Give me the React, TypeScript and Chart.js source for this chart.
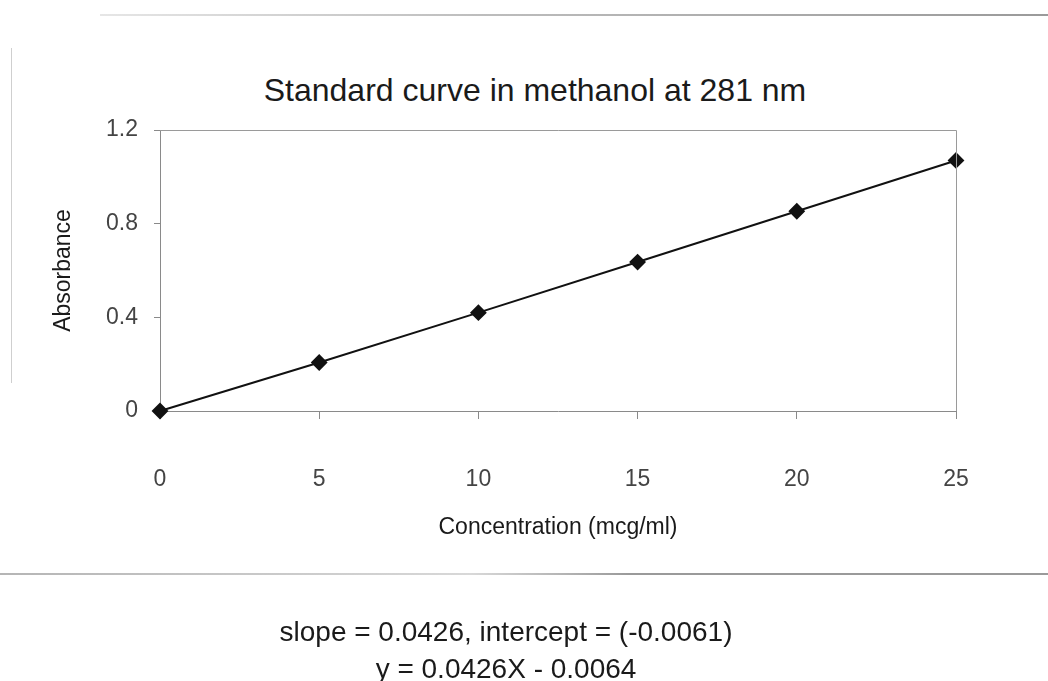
import React, { useEffect, useRef } from "react";
import { Chart, registerables } from "chart.js";

Chart.register(...registerables);

const concentrations = [0, 5, 10, 15, 20, 25];
const absorbances = [0, 0.207, 0.42, 0.636, 0.853, 1.07];
const xTicks = [0, 5, 10, 15, 20, 25];
const yTicks = [0, 0.4, 0.8, 1.2];
const titleText = "Standard curve in methanol at 281 nm";
const xTitle = "Concentration (mcg/ml)";
const yTitle = "Absorbance";
const slopeText = "slope = 0.0426, intercept = (-0.0061)";
const equationText = "y = 0.0426X - 0.0064";

const FONT = "'Liberation Sans', Arial, Helvetica, sans-serif";

const framePlugin = {
  id: "frame",
  afterDatasetsDraw(chart: any) {
    const { ctx, chartArea } = chart;
    ctx.save();
    ctx.strokeStyle = "#9a9a9a";
    ctx.lineWidth = 1;
    ctx.beginPath();
    ctx.moveTo(chartArea.left, chartArea.top + 0.5);
    ctx.lineTo(chartArea.right + 0.5, chartArea.top + 0.5);
    ctx.lineTo(chartArea.right + 0.5, chartArea.bottom);
    ctx.stroke();
    ctx.restore();
  },
};

export default function App() {
  const ref = useRef<HTMLCanvasElement | null>(null);

  useEffect(() => {
    if (!ref.current) return;
    const chart = new Chart(ref.current, {
      type: "line",
      data: {
        datasets: [
          {
            data: concentrations.map((x, i) => ({ x, y: absorbances[i] })),
            borderColor: "#111",
            backgroundColor: "#111",
            borderWidth: 2,
            pointStyle: "rectRot",
            pointRadius: 7,
            pointHoverRadius: 7,
            pointBackgroundColor: "#111",
            pointBorderColor: "#111",
            tension: 0,
            clip: false as any,
          },
        ],
      },
      options: {
        animation: false,
        responsive: false,
        devicePixelRatio: 1,
        layout: { padding: { left: 40, right: 92, top: 130, bottom: 100 } },
        plugins: {
          legend: { display: false },
          tooltip: { enabled: false },
          title: { display: false },
        },
        scales: {
          x: {
            type: "linear",
            min: 0,
            max: 25,
            afterBuildTicks: (s: any) => {
              s.ticks = xTicks.map((v) => ({ value: v }));
            },
            afterFit: (s: any) => {
              s.height = 170;
            },
            ticks: {
              color: "#444",
              padding: 47,
              font: { family: FONT, size: 23 },
            },
            grid: {
              drawOnChartArea: false,
              tickLength: 8,
              color: "#8a8a8a",
            },
            border: { color: "#8a8a8a", width: 1 },
            title: {
              display: true,
              text: xTitle,
              color: "#1a1a1a",
              font: { family: FONT, size: 23 },
              padding: { top: 4, bottom: 40 },
            },
          },
          y: {
            type: "linear",
            min: 0,
            max: 1.2,
            afterBuildTicks: (s: any) => {
              s.ticks = yTicks.map((v) => ({ value: v }));
            },
            afterFit: (s: any) => {
              s.width = 120;
            },
            ticks: {
              color: "#444",
              padding: 16,
              font: { family: FONT, size: 23 },
            },
            grid: {
              drawOnChartArea: false,
              tickLength: 6,
              color: "#8a8a8a",
            },
            border: { color: "#8a8a8a", width: 1 },
            title: {
              display: true,
              text: yTitle,
              color: "#1a1a1a",
              font: { family: FONT, size: 23 },
              padding: { top: 10, bottom: 4 },
            },
          },
        },
      },
      plugins: [framePlugin],
    });
    return () => chart.destroy();
  }, []);

  const textStyle: React.CSSProperties = {
    position: "absolute",
    left: 0,
    textAlign: "center",
    fontFamily: FONT,
    color: "#1a1a1a",
    whiteSpace: "nowrap",
  };

  return (
    <div
      style={{
        position: "fixed",
        left: 0,
        top: 0,
        width: 1048,
        height: 681,
        background: "#fff",
        overflow: "hidden",
      }}
    >
      <div
        style={{
          position: "absolute",
          left: 100,
          top: 14,
          width: 948,
          height: 2,
          background: "linear-gradient(to right, #e6e6e6, #bdbdbd 40%, #9a9a9a 100%)",
        }}
      />
      <div
        style={{
          position: "absolute",
          left: 11,
          top: 48,
          width: 1,
          height: 335,
          background: "#cfcfcf",
        }}
      />
      <div style={{ ...textStyle, width: 1070, top: 70, fontSize: 32, lineHeight: "40px" }}>
        {titleText}
      </div>
      <canvas ref={ref} width={1048} height={681} style={{ position: "absolute", left: 0, top: 0 }} />
      <div
        style={{
          position: "absolute",
          left: 0,
          top: 573,
          width: 1048,
          height: 2,
          background: "linear-gradient(to right, #b5b5b5, #d8d8d8 45%, #9a9a9a 60%, #9a9a9a 100%)",
        }}
      />
      <div style={{ ...textStyle, width: 1012, top: 612, fontSize: 28, lineHeight: "40px" }}>
        {slopeText}
      </div>
      <div style={{ ...textStyle, width: 1012, top: 649, fontSize: 28, lineHeight: "40px" }}>
        {equationText}
      </div>
    </div>
  );
}
